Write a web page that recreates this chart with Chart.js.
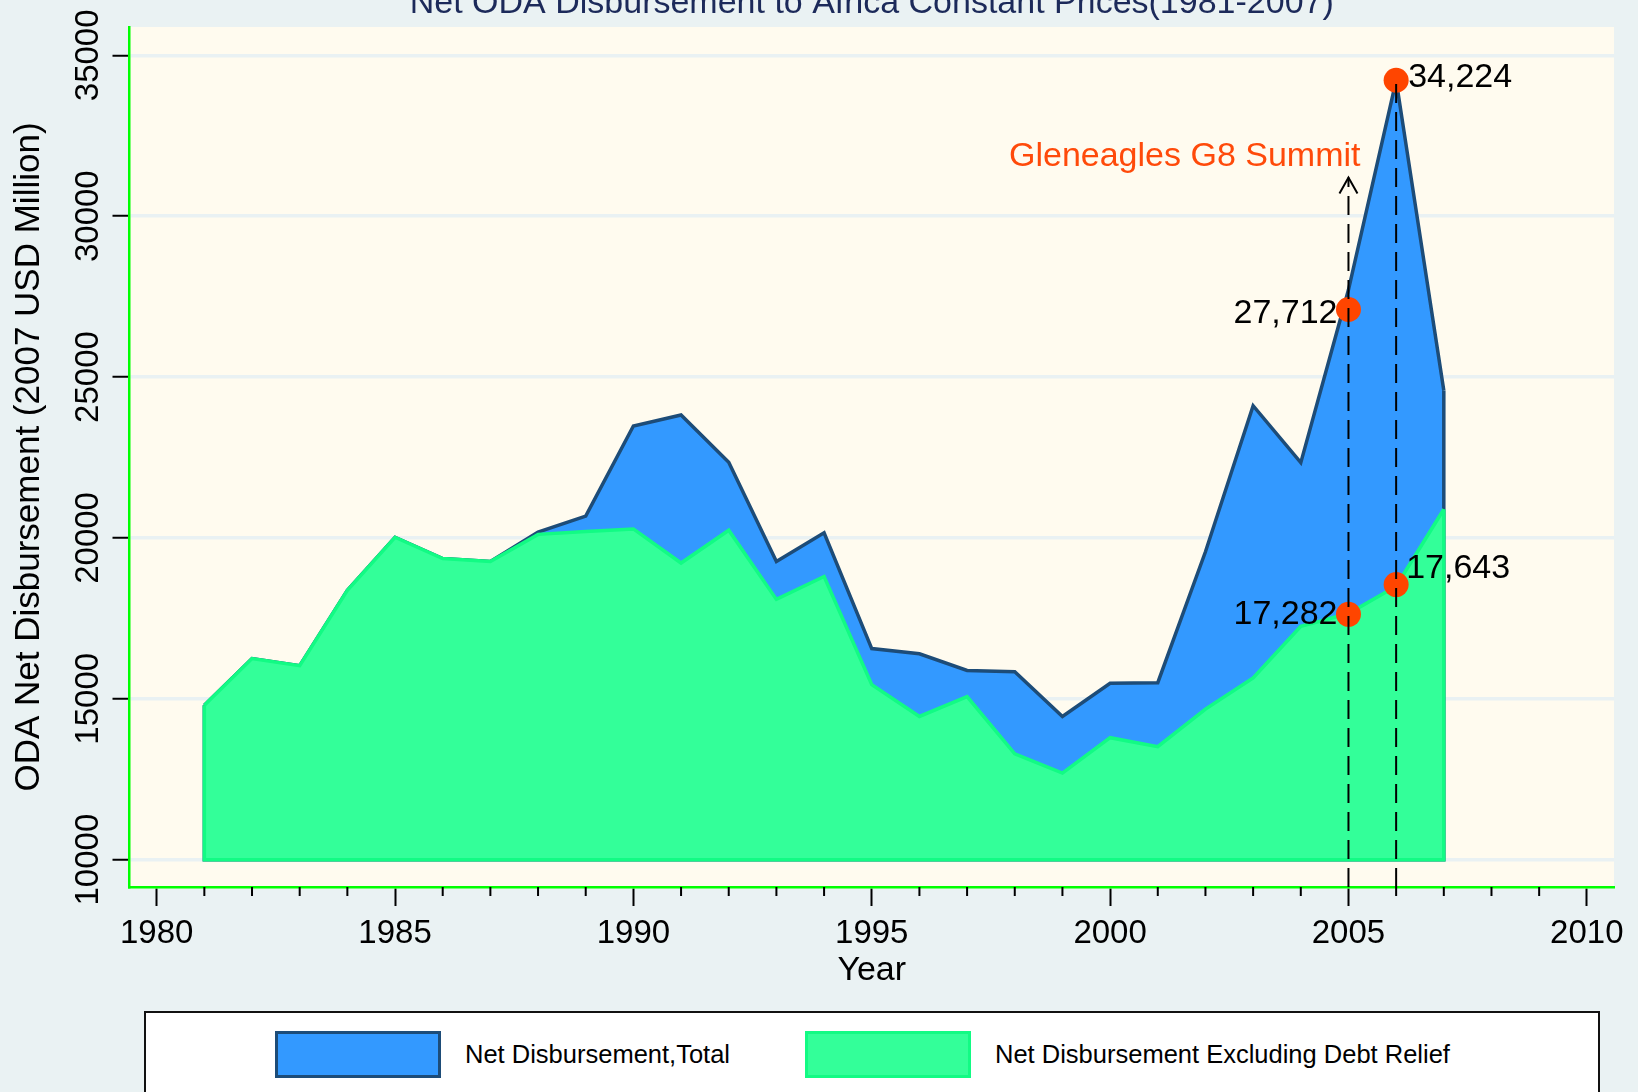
<!DOCTYPE html>
<html>
<head>
<meta charset="utf-8">
<title>Net ODA Disbursement to Africa</title>
<script src="https://cdn.jsdelivr.net/npm/chart.js@4.4.1/dist/chart.umd.min.js"></script>
<style>
  html, body { margin: 0; padding: 0; background: #eaf2f3; overflow: hidden; }
  #wrap { position: relative; width: 1638px; height: 1092px; }
  #legend {
    position: absolute; left: 144px; top: 1011px; width: 1452px; height: 120px;
    background: #fff; border: 2px solid #111;
    font: 25.5px 'Liberation Sans', Arial, sans-serif; color: #000;
  }
  .item { position: absolute; top: 18px; height: 47px; display: flex; align-items: center; white-space: nowrap; }
  .swatch { box-sizing: border-box; width: 166px; height: 47px; border: 3px solid; margin-right: 24px; }
</style>
</head>
<body>
<div id="wrap">
  <canvas id="myChart" width="1638" height="1092"></canvas>
  <div id="legend"></div>
</div>
<script>
const FONT = "'Liberation Sans', Arial, sans-serif";

const titleText = 'Net ODA Disbursement to Africa Constant Prices(1981-2007)';
const years = [1981, 1982, 1983, 1984, 1985, 1986, 1987, 1988, 1989, 1990,
  1991, 1992, 1993, 1994, 1995, 1996, 1997, 1998, 1999, 2000,
  2001, 2002, 2003, 2004, 2005, 2006, 2007];
// Net Disbursement, Total
const netTotal = [14800, 16250, 16030, 18370, 20020, 19360, 19270, 20180, 20680, 23480,
  23820, 22350, 19270, 20160, 16560, 16400, 15880, 15840, 14450, 15480,
  15500, 19570, 24110, 22340, 27712, 34224, 24580];
// Net Disbursement Excluding Debt Relief
const netExclDebt = [14800, 16250, 16030, 18370, 20020, 19360, 19270, 20110, 20200, 20280,
  19220, 20240, 18090, 18800, 15440, 14450, 15070, 13290, 12690, 13790,
  13510, 14680, 15650, 17250, 17650, 18500, 20890];
const seriesNames = ['Net Disbursement,Total', 'Net Disbursement Excluding Debt Relief'];

// highlighted points and their labels
const markerYears = [2005, 2006, 2005, 2006];
const markerValues = [27100, 34224, 17625, 18550];
const markerLabels = ['27,712', '34,224', '17,282', '17,643'];

// dashed guides (2005 ends in the arrow to the note)
const guideYears = [2005, 2006];
const guideTops = [31200, 34224];
const noteText = 'Gleneagles G8 Summit';
const noteYear = 2005;
const noteValue = 31850;

const xTicks = [1980, 1985, 1990, 1995, 2000, 2005, 2010];
const yTicks = [10000, 15000, 20000, 25000, 30000, 35000];
const areaBase = 10000;
const xMin = 1979.43, xMax = 2010.57;
const yMin = 9150, yMax = 35880;

const pairs = (xs, ys) => xs.map((x, i) => ({ x: x, y: ys[i] }));

const plotBackground = {
  id: 'plotBackground',
  beforeDraw(chart) {
    const { ctx, chartArea: a } = chart;
    ctx.save();
    ctx.fillStyle = '#fffbef';
    ctx.fillRect(a.left, a.top, a.right - a.left, a.bottom - a.top);
    ctx.restore();
  },
  afterDraw(chart) {
    const { ctx, chartArea: a } = chart;
    ctx.save();
    ctx.font = '34px ' + FONT;
    ctx.fillStyle = '#1c2a5a';
    ctx.textAlign = 'center';
    ctx.textBaseline = 'alphabetic';
    ctx.fillText(titleText, (a.left + a.right) / 2, 13);
    // minor year ticks
    const x = chart.scales.x;
    ctx.strokeStyle = '#000';
    ctx.lineWidth = 2;
    ctx.beginPath();
    for (let yr = 1980; yr <= 2010; yr++) {
      if (yr % 5 === 0) continue;
      const px = x.getPixelForValue(yr);
      ctx.moveTo(px, a.bottom);
      ctx.lineTo(px, a.bottom + 9);
    }
    ctx.stroke();
    ctx.restore();
  }
};

// close the area outlines down to the base like the original
const areaEdges = {
  id: 'areaEdges',
  afterDatasetDraw(chart, args) {
    const ds = chart.data.datasets[args.index];
    if (!ds.isArea) return;
    const pts = args.meta.data;
    const base = chart.scales.y.getPixelForValue(areaBase);
    const first = pts[0], last = pts[pts.length - 1];
    const ctx = chart.ctx;
    ctx.save();
    ctx.strokeStyle = ds.borderColor;
    ctx.lineWidth = ds.borderWidth;
    ctx.beginPath();
    ctx.moveTo(first.x, first.y);
    ctx.lineTo(first.x, base);
    ctx.lineTo(last.x, base);
    ctx.lineTo(last.x, last.y);
    ctx.stroke();
    ctx.restore();
  }
};

const notes = {
  id: 'notes',
  afterDatasetsDraw(chart) {
    const ctx = chart.ctx;
    const xs = chart.scales.x, ys = chart.scales.y;
    ctx.save();
    ctx.font = '34px ' + FONT;
    ctx.textBaseline = 'middle';
    // marker labels
    const offs = [[-11, 4, 'right'], [12, -3, 'left'], [-11, 0, 'right'], [10, -16, 'left']];
    ctx.fillStyle = '#000';
    markerLabels.forEach((t, i) => {
      const px = xs.getPixelForValue(markerYears[i]);
      const py = ys.getPixelForValue(markerValues[i]);
      ctx.textAlign = offs[i][2];
      ctx.fillText(t, px + offs[i][0], py + offs[i][1]);
    });
    // note text
    ctx.fillStyle = '#ff4a0a';
    ctx.textAlign = 'right';
    ctx.fillText(noteText, xs.getPixelForValue(noteYear) + 12, ys.getPixelForValue(noteValue));
    // arrow head
    const ax = xs.getPixelForValue(guideYears[0]);
    const ay = ys.getPixelForValue(guideTops[0]);
    ctx.strokeStyle = '#000';
    ctx.lineWidth = 2;
    ctx.beginPath();
    ctx.moveTo(ax - 9, ay + 16);
    ctx.lineTo(ax, ay);
    ctx.lineTo(ax + 9, ay + 16);
    ctx.stroke();
    ctx.restore();
  }
};

const guideSets = guideYears.map((yr, i) => ({
  label: 'guide' + i,
  data: [{ x: yr, y: yMin }, { x: yr, y: guideTops[i] }],
  borderColor: '#000',
  borderWidth: 2,
  borderDash: [19, 9],
  pointRadius: 0,
  fill: false,
  order: 1
}));

const data = {
  datasets: [
    ...guideSets,
    {
      label: 'markers',
      data: pairs(markerYears, markerValues),
      showLine: false,
      pointRadius: 12.5,
      pointBackgroundColor: '#ff4500',
      pointBorderWidth: 0,
      order: 2
    },
    {
      label: seriesNames[1],
      data: pairs(years, netExclDebt),
      borderColor: '#12fb84',
      backgroundColor: '#33ff99',
      borderWidth: 3.5,
      pointRadius: 0,
      fill: { value: areaBase },
      isArea: true,
      order: 3
    },
    {
      label: seriesNames[0],
      data: pairs(years, netTotal),
      borderColor: '#1d4c78',
      backgroundColor: '#3399ff',
      borderWidth: 3.5,
      pointRadius: 0,
      fill: { value: areaBase },
      isArea: true,
      order: 4
    }
  ]
};

const config = {
  type: 'line',
  data: data,
  options: {
    responsive: false,
    animation: false,
    events: [],
    layout: { padding: { top: 27, right: 24, left: 0, bottom: 0 } },
    scales: {
      x: {
        type: 'linear',
        min: xMin,
        max: xMax,
        afterBuildTicks: (s) => { s.ticks = xTicks.map(v => ({ value: v })); },
        afterFit: (s) => { s.height = 205; },
        ticks: { callback: v => String(v), color: '#000', font: { family: FONT, size: 33 }, padding: 8, maxRotation: 0 },
        grid: { drawOnChartArea: false, tickLength: 19, tickColor: '#000', tickWidth: 2 },
        border: { color: '#00ff00', width: 2.5 },
        title: { display: true, text: 'Year', color: '#000', font: { family: FONT, size: 34 }, padding: { top: 0, bottom: 101 } }
      },
      y: {
        type: 'linear',
        min: yMin,
        max: yMax,
        afterBuildTicks: (s) => { s.ticks = yTicks.map(v => ({ value: v })); },
        afterFit: (s) => { s.width = 129.5; },
        ticks: { callback: v => String(v), color: '#000', font: { family: FONT, size: 33 }, minRotation: 90, maxRotation: 90, crossAlign: 'center', padding: -22 },
        grid: { color: '#e9f1f3', lineWidth: 3.5, tickLength: 17, tickColor: '#000', tickWidth: 2 },
        border: { color: '#00ff00', width: 2.5 },
        title: { display: true, text: 'ODA Net Disbursement (2007 USD Million)', color: '#000', font: { family: FONT, size: 35 }, padding: { top: 8, bottom: 0 } }
      }
    },
    plugins: {
      legend: { display: false },
      tooltip: { enabled: false }
    }
  },
  plugins: [plotBackground, areaEdges, notes]
};

new Chart(document.getElementById('myChart'), config);

// legend box
const legendItems = [
  { text: seriesNames[0], fill: '#3399ff', edge: '#1d4c78', left: 129 },
  { text: seriesNames[1], fill: '#33ff99', edge: '#12fb84', left: 659 }
];
const legendEl = document.getElementById('legend');
legendItems.forEach(it => {
  const d = document.createElement('div');
  d.className = 'item';
  d.style.left = it.left + 'px';
  const sw = document.createElement('div');
  sw.className = 'swatch';
  sw.style.background = it.fill;
  sw.style.borderColor = it.edge;
  const tx = document.createElement('span');
  tx.textContent = it.text;
  d.appendChild(sw);
  d.appendChild(tx);
  legendEl.appendChild(d);
});
</script>
</body>
</html>
